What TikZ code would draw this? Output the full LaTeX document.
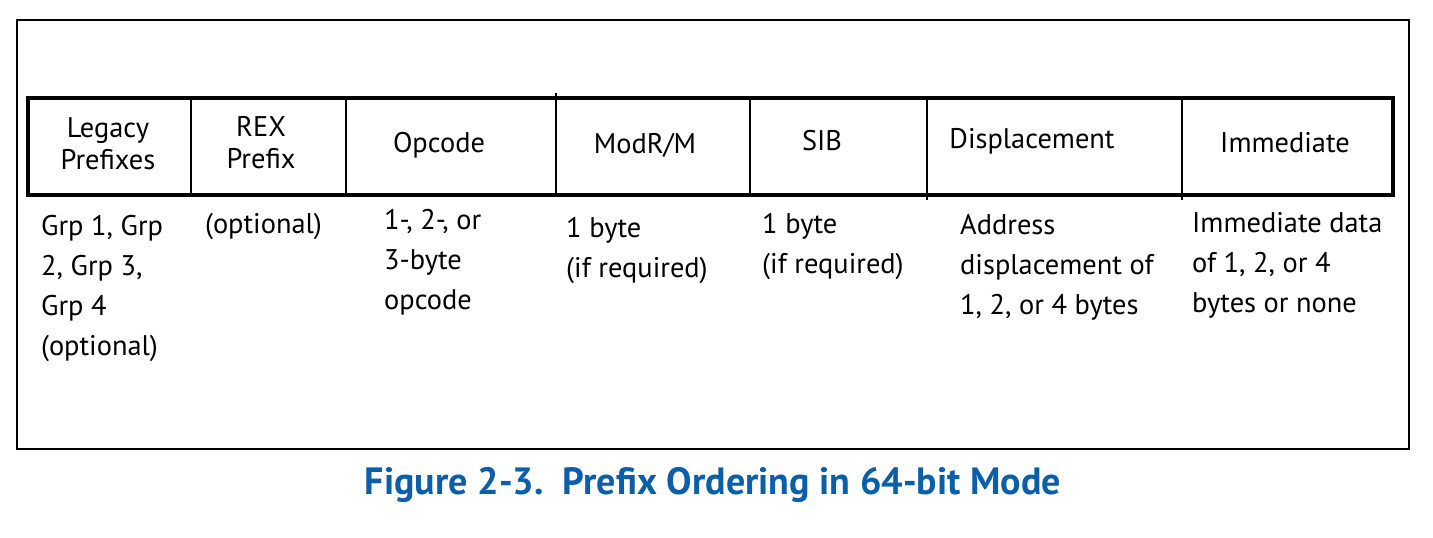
\documentclass[tikz,border=0pt]{standalone}
\usepackage{fontspec}
\setmainfont{PT Sans}
\usetikzlibrary{positioning}
\definecolor{capblue}{RGB}{11,94,168}
\begin{document}
\begin{tikzpicture}[x=1pt, y=-1pt,
    head/.style={align=center, inner sep=0pt, font=\fontsize{28.4}{32}\selectfont},
    note/.style={align=left, anchor=west, inner sep=0pt, font=\fontsize{28.4}{40}\selectfont}]
        \useasboundingbox (0,0) rectangle (1433,538);
        \draw[line width=1.5pt] (17,20) rectangle (1409,449);
        \draw[line width=4pt] (28,98) rectangle (1393,195);
        \foreach \x/\t/\b in {191/98/195, 346/98/195, 556/93/195, 750/98/195, 927/98/200, 1182/98/200}
            \draw[line width=1.8pt] (\x,\t) -- (\x,\b);
        % field names
        \node[head] (legacy) at (108,144) {Legacy\\Prefixes};
        \node[head] (rex) at (261,143) {REX\\Prefix};
        \node[head] (opcode) at (439,145) {Opcode};
        \node[head] (modrm) at (645,145) {ModR/M};
        \node[head] (sib) at (822,141) {SIB};
        \node[head] (disp) at (1032,141) {Displacement};
        \node[head] (imm) at (1285,143) {Immediate};
        % sizes
        \node[note] (legacynote) at (41,289) {Grp 1, Grp\\2, Grp 3,\\Grp 4\\(optional)};
        \node[note] (rexnote) at (205,227) {(optional)};
        \node[note] (opcodenote) at (384,262) {1-, 2-, or\\3-byte\\opcode};
        \node[note] (modrmnote) at (566,251) {1 byte\\(if required)};
        \node[note] (sibnote) at (762,247) {1 byte\\(if required)};
        \node[note] (dispnote) at (960,267) {Address\\displacement of\\1, 2, or 4 bytes};
        \node[note] (immnote) at (1192,265) {Immediate data\\of 1, 2, or 4\\bytes or none};
        \node[font=\fontsize{38}{44}\selectfont\bfseries, text=capblue] (caption) at (713,485)
            {Figure 2-3.\ \ Prefix Ordering in 64-bit Mode};
\end{tikzpicture}
\end{document}
